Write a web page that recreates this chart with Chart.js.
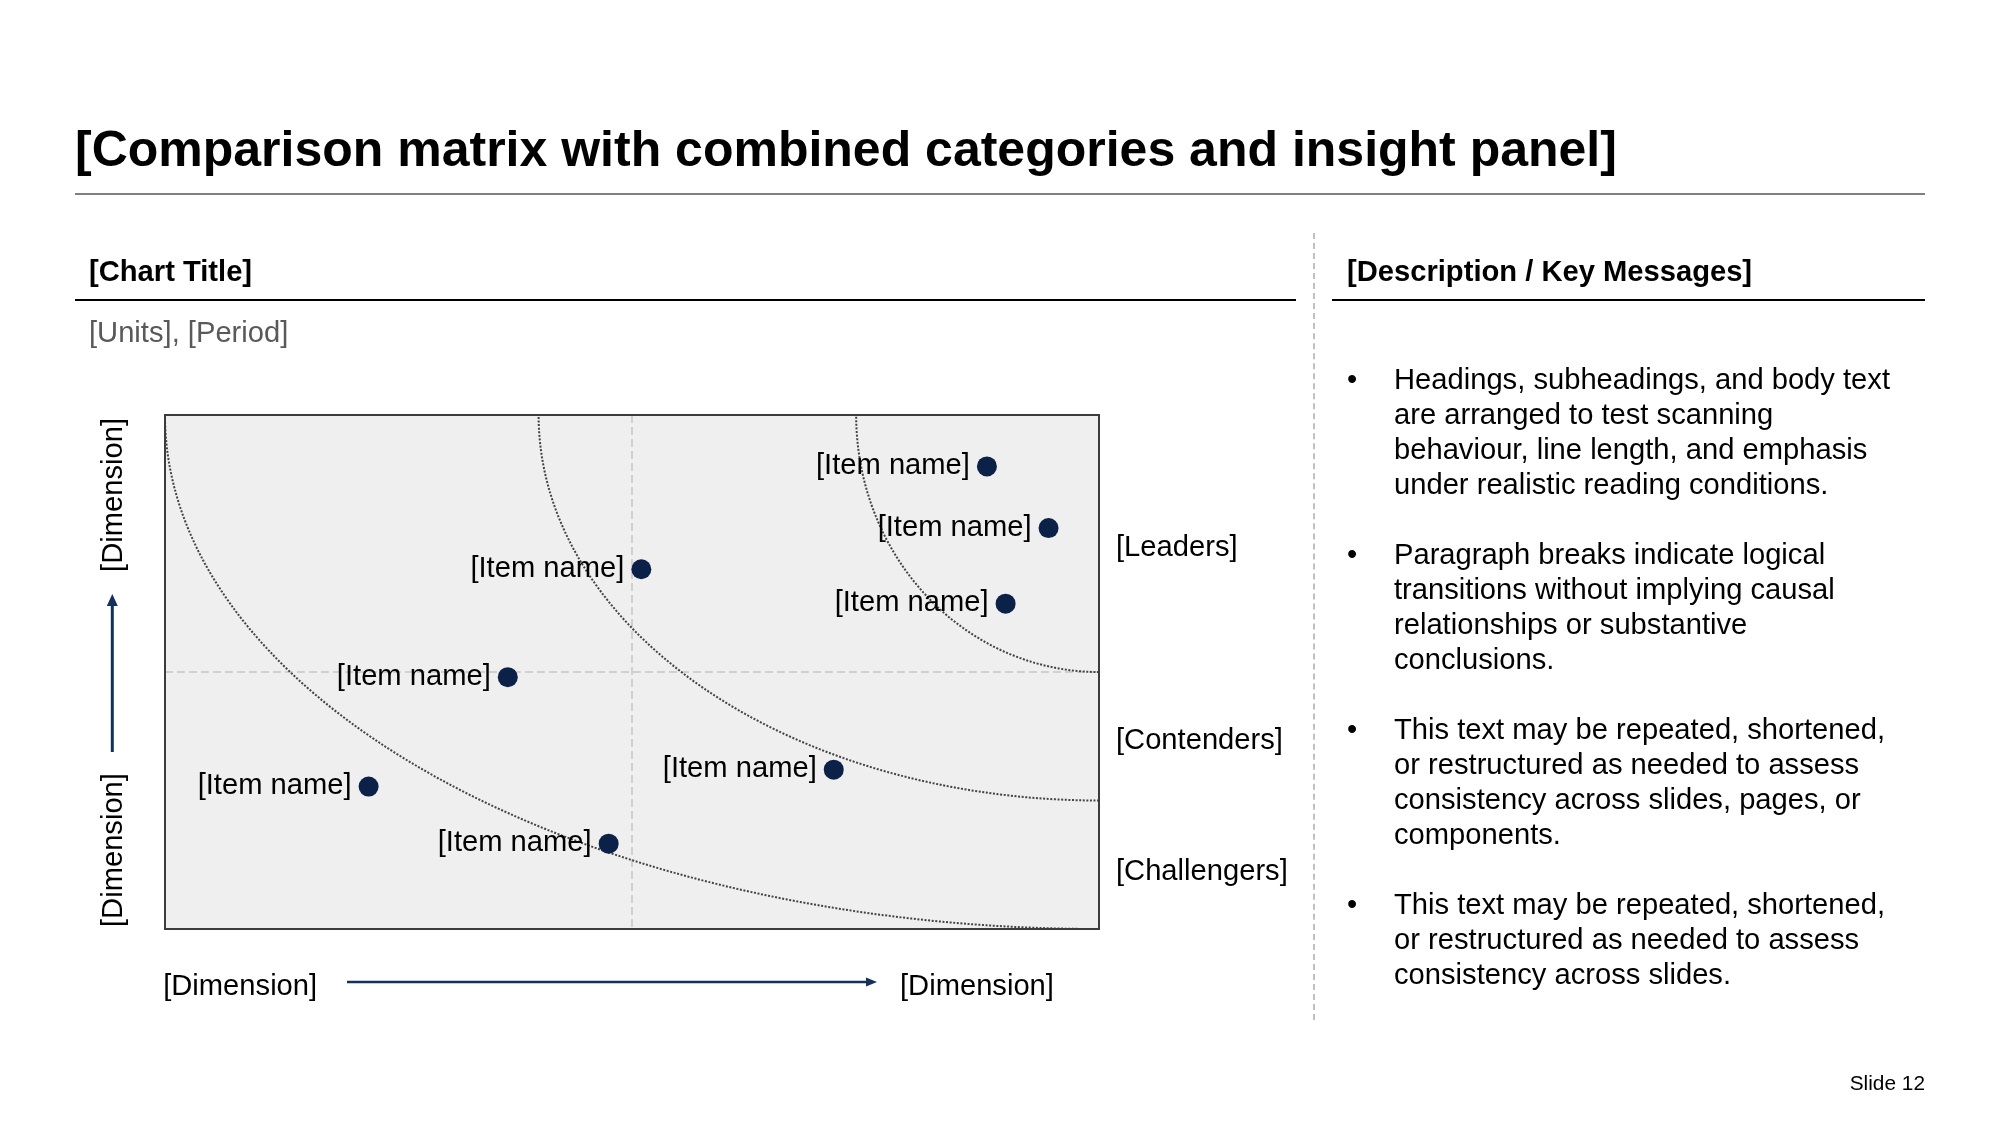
<!DOCTYPE html>
<html>
<head>
<meta charset="utf-8">
<script src="https://cdn.jsdelivr.net/npm/chart.js@4.4.0/dist/chart.umd.min.js"></script>
<style>
  html, body { margin: 0; padding: 0; background: #ffffff; }
  body { width: 2000px; height: 1125px; position: relative; overflow: hidden;
         font-family: "Liberation Sans", Arial, sans-serif; color: #000; }
  .t { position: absolute; white-space: nowrap; line-height: 1; }
  #chart { position: absolute; left: 0; top: 0; }
  .rule { position: absolute; height: 0; }
  .para { position: absolute; left: 1394px; font-size: 29.17px; line-height: 35px; white-space: nowrap; }
  .bul { position: absolute; left: 1347px; font-size: 29.17px; line-height: 35px; }
</style>
</head>
<body>
<canvas id="chart" width="2000" height="1125" style="width:2000px;height:1125px"></canvas>

<div class="t" style="left:75px; top:123.7px; font-size:50px; font-weight:bold;">[Comparison matrix with combined categories and insight panel]</div>
<div class="rule" style="left:75px; top:193px; width:1850px; border-top:2px solid #7f7f7f;"></div>

<div class="t" style="left:89px; top:256.5px; font-size:29.17px; font-weight:bold;">[Chart Title]</div>
<div class="rule" style="left:75px; top:299px; width:1221px; border-top:2px solid #000;"></div>
<div class="t" style="left:89px; top:318.3px; font-size:29.17px; color:#595959;">[Units], [Period]</div>

<div class="t" style="left:1347px; top:256.5px; font-size:29.17px; font-weight:bold;">[Description / Key Messages]</div>
<div class="rule" style="left:1332px; top:299px; width:593px; border-top:2px solid #000;"></div>

<div style="position:absolute; left:1313px; top:233px; width:0; height:787px; border-left:2px dashed #c0c0c0;"></div>

<div class="t" style="left:1116px; top:531.5px; font-size:29.17px;">[Leaders]</div>
<div class="t" style="left:1116px; top:725px; font-size:29.17px;">[Contenders]</div>
<div class="t" style="left:1116px; top:855.8px; font-size:29.17px;">[Challengers]</div>

<div class="bul" style="top:362px;">•</div>
<div class="para" style="top:362px;">Headings, subheadings, and body text<br>are arranged to test scanning<br>behaviour, line length, and emphasis<br>under realistic reading conditions.</div>
<div class="bul" style="top:537px;">•</div>
<div class="para" style="top:537px;">Paragraph breaks indicate logical<br>transitions without implying causal<br>relationships or substantive<br>conclusions.</div>
<div class="bul" style="top:712px;">•</div>
<div class="para" style="top:712px;">This text may be repeated, shortened,<br>or restructured as needed to assess<br>consistency across slides, pages, or<br>components.</div>
<div class="bul" style="top:887px;">•</div>
<div class="para" style="top:887px;">This text may be repeated, shortened,<br>or restructured as needed to assess<br>consistency across slides.</div>

<div class="t" style="right:75px; top:1072.7px; font-size:20.83px;">Slide 12</div>

<script>
// ---- data ----
const itemNames = ['[Item name]', '[Item name]', '[Item name]', '[Item name]',
                   '[Item name]', '[Item name]', '[Item name]', '[Item name]'];
const xValues = [88, 94.6, 51, 90, 36.7, 71.6, 21.8, 47.5];
const yValues = [90, 78, 70, 63.3, 49, 31, 27.7, 16.6];
const axisMin = 0;
const axisMax = 100;
const quadrantSplitX = 50;
const quadrantSplitY = 50;
const tierNames = ['[Leaders]', '[Contenders]', '[Challengers]'];
const tierCenter = [100, 100];
const tierRadiusX = [26, 60, 100];
const tierRadiusY = [50, 75, 100];
const dimensionLabels = ['[Dimension]', '[Dimension]'];

const FONT = '"Liberation Sans", Arial, sans-serif';
const NAVY = '#0c2148';
const ARROW = '#14305c';

const matrixPlugin = {
  id: 'matrixPlugin',
  beforeDatasetsDraw(chart) {
    const { ctx, chartArea: a, scales: { x, y } } = chart;
    ctx.save();
    ctx.fillStyle = '#efefef';
    ctx.fillRect(a.left, a.top, a.width, a.height);

    // quadrant split lines
    ctx.strokeStyle = '#c6c6c6';
    ctx.lineWidth = 1.5;
    ctx.setLineDash([8, 4]);
    const mx = x.getPixelForValue(quadrantSplitX);
    const my = y.getPixelForValue(quadrantSplitY);
    ctx.beginPath();
    ctx.moveTo(mx, a.top); ctx.lineTo(mx, a.bottom);
    ctx.moveTo(a.left, my); ctx.lineTo(a.right, my);
    ctx.stroke();

    // tier boundary curves
    ctx.save();
    ctx.beginPath();
    ctx.rect(a.left, a.top, a.width, a.height);
    ctx.clip();
    const cx = x.getPixelForValue(tierCenter[0]);
    const cy = y.getPixelForValue(tierCenter[1]);
    ctx.strokeStyle = '#444444';
    ctx.lineWidth = 2;
    ctx.setLineDash([2, 1.6]);
    for (let i = 0; i < tierRadiusX.length; i++) {
      const rx = Math.abs(cx - x.getPixelForValue(tierCenter[0] - tierRadiusX[i]));
      const ry = Math.abs(y.getPixelForValue(tierCenter[1] - tierRadiusY[i]) - cy);
      ctx.beginPath();
      ctx.ellipse(cx, cy, rx, ry, 0, Math.PI / 2, Math.PI);
      ctx.stroke();
    }
    ctx.restore();

    // border
    ctx.setLineDash([]);
    ctx.strokeStyle = '#3c3c3c';
    ctx.lineWidth = 2;
    ctx.strokeRect(a.left, a.top, a.width, a.height);
    ctx.restore();
  },
  afterDatasetsDraw(chart) {
    const { ctx, chartArea: a } = chart;
    const meta = chart.getDatasetMeta(0);
    ctx.save();
    ctx.font = '29.17px ' + FONT;
    ctx.fillStyle = '#000';
    ctx.textAlign = 'right';
    ctx.textBaseline = 'alphabetic';
    meta.data.forEach((pt, i) => {
      ctx.fillText(itemNames[i], pt.x - 17, pt.y + 7.6);
    });

    // axis titles
    ctx.textAlign = 'left';
    ctx.fillText(dimensionLabels[0], a.left - 1.8, a.bottom + 65.5);
    ctx.fillText(dimensionLabels[1], 900, a.bottom + 65.5);

    // horizontal arrow
    ctx.strokeStyle = ARROW; ctx.fillStyle = ARROW; ctx.lineWidth = 2.6;
    const ay = a.bottom + 53;
    ctx.beginPath(); ctx.moveTo(347, ay); ctx.lineTo(868, ay); ctx.stroke();
    ctx.beginPath(); ctx.moveTo(877, ay); ctx.lineTo(866, ay - 4.5); ctx.lineTo(866, ay + 4.5); ctx.closePath(); ctx.fill();

    // vertical arrow
    const vx = 112.3;
    ctx.lineWidth = 3;
    ctx.beginPath(); ctx.moveTo(vx, 752); ctx.lineTo(vx, 603); ctx.stroke();
    ctx.beginPath(); ctx.moveTo(vx, 594); ctx.lineTo(vx - 5.5, 606); ctx.lineTo(vx + 5.5, 606); ctx.closePath(); ctx.fill();

    // rotated axis titles
    ctx.fillStyle = '#000';
    ctx.save();
    ctx.translate(121.5, a.top + 3);
    ctx.rotate(-Math.PI / 2);
    ctx.textAlign = 'right';
    ctx.fillText(dimensionLabels[1], 0, 0);
    ctx.restore();
    ctx.save();
    ctx.translate(121.5, a.bottom - 2);
    ctx.rotate(-Math.PI / 2);
    ctx.textAlign = 'left';
    ctx.fillText(dimensionLabels[0], 0, 0);
    ctx.restore();
    ctx.restore();
  }
};

new Chart(document.getElementById('chart'), {
  type: 'scatter',
  data: {
    datasets: [{
      data: xValues.map((v, i) => ({ x: v, y: yValues[i] })),
      backgroundColor: NAVY,
      borderWidth: 0,
      pointRadius: 10,
      pointHoverRadius: 10
    }]
  },
  options: {
    responsive: false,
    devicePixelRatio: 1,
    animation: false,
    events: [],
    layout: { padding: { left: 165, right: 901, top: 415, bottom: 196 } },
    scales: {
      x: { type: 'linear', min: axisMin, max: axisMax, display: false },
      y: { type: 'linear', min: axisMin, max: axisMax, display: false }
    },
    plugins: { legend: { display: false }, tooltip: { enabled: false } }
  },
  plugins: [matrixPlugin]
});
</script>
</body>
</html>
